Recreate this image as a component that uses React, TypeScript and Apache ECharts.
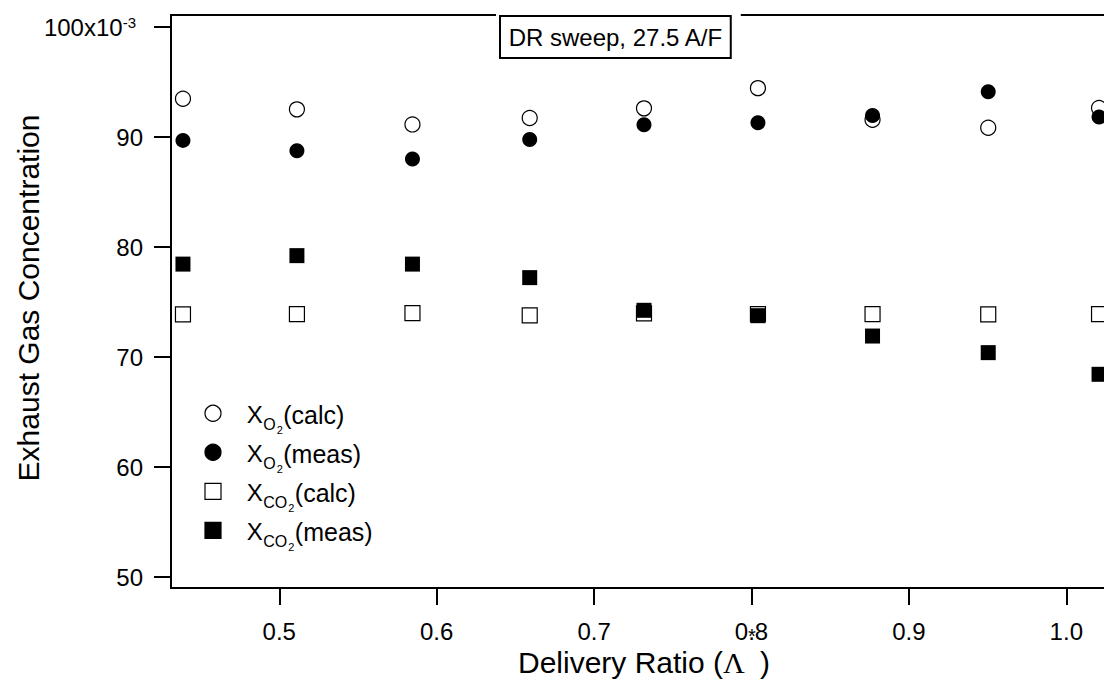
import React, { useEffect, useRef } from "react";
import * as echarts from "echarts";

// ---- data (values in units of 10^-3) ----
const deliveryRatio = [0.4388, 0.5112, 0.5846, 0.6591, 0.7317, 0.8041, 0.8769, 0.9504, 1.0208];
const o2Calc = [93.49, 92.52, 91.15, 91.73, 92.61, 94.45, 91.58, 90.85, 92.64];
const o2Meas = [89.7, 88.76, 88.0, 89.79, 91.13, 91.31, 91.97, 94.13, 91.82];
const co2Calc = [73.88, 73.91, 74.0, 73.79, 73.97, 73.91, 73.91, 73.88, 73.91];
const co2Meas = [78.45, 79.22, 78.45, 77.22, 74.25, 73.76, 71.91, 70.4, 68.43];
const xTicks = [0.5, 0.6, 0.7, 0.8, 0.9, 1.0];
const yTicks = [50, 60, 70, 80, 90, 100];
const legendItems = [
  { symbol: "circle", filled: false, sub: "O", label: "(calc)" },
  { symbol: "circle", filled: true, sub: "O", label: "(meas)" },
  { symbol: "rect", filled: false, sub: "CO", label: "(calc)" },
  { symbol: "rect", filled: true, sub: "CO", label: "(meas)" },
];
const titleText = "DR sweep, 27.5 A/F";
const xTitle = "Delivery Ratio (";
const yTitle = "Exhaust Gas Concentration";

const FONT = '"Liberation Sans", Arial, Helvetica, sans-serif';
const SERIF = '"Liberation Serif", "Times New Roman", serif';

const CHART_W = 1200;

let ctx: CanvasRenderingContext2D | null = null;
function measure(text: string, size: number, family = FONT) {
  if (!ctx) ctx = document.createElement("canvas").getContext("2d");
  if (!ctx) return text.length * size * 0.55;
  ctx.font = `${size}px ${family}`;
  return ctx.measureText(text).width;
}

function txt(x: number, y: number, text: string, size: number, extra: any = {}, family = FONT) {
  return {
    type: "text",
    x,
    y,
    z: 100,
    style: {
      text,
      fontSize: size,
      fontFamily: family,
      fill: "#000",
      align: "left",
      verticalAlign: "middle",
      ...extra,
    },
  };
}

function buildLegend() {
  const els: any[] = [];
  const rows = [413.3, 452.3, 491.3, 530.3];
  const mx = 213;
  legendItems.forEach((it, i) => {
    const cy = rows[i];
    const style = { fill: it.filled ? "#000" : "#fff", stroke: "#000", lineWidth: 1.2 };
    if (it.symbol === "circle") {
      els.push({ type: "circle", z: 100, shape: { cx: mx, cy, r: 8 }, style });
    } else {
      els.push({ type: "rect", z: 100, shape: { x: mx - 8, y: cy - 8, width: 16, height: 16 }, style });
    }
    let x = 246.7;
    els.push(txt(x, cy + 1.4, "X", 24));
    x += measure("X", 24) + 0.5;
    els.push(txt(x, cy + 11.6, it.sub, 16));
    x += measure(it.sub, 16) + 1;
    els.push(txt(x, cy + 16.4, "2", 11));
    x += measure("2", 11) + 0.5;
    els.push(txt(x, cy + 1.4, it.label, 25));
  });
  return els;
}

export default function App() {
  const ref = useRef<HTMLDivElement>(null);
  useEffect(() => {
    if (!ref.current) return;
    const chart = echarts.init(ref.current, undefined, { renderer: "svg" });

    const mk = (ys: number[]) => deliveryRatio.map((x, i) => [x, ys[i]]);
    const open = { color: "#fff", borderColor: "#000", borderWidth: 1.2, opacity: 1 };
    const solid = { color: "#000", borderColor: "#000", borderWidth: 0, opacity: 1 };

    const titleW = measure(titleText, 24) + 16;
    const titleX = 500;

    const xTitleW = measure(xTitle, 30);
    const xTitleLeft = 518;

    const option: any = {
      animation: false,
      backgroundColor: "#fff",
      grid: {
        left: 171,
        right: CHART_W - 1145,
        top: 15,
        bottom: 92,
        show: true,
        borderColor: "#000",
        borderWidth: 2,
        backgroundColor: "transparent",
      },
      xAxis: {
        type: "value",
        min: 0.4312,
        max: 1.05,
        axisLine: { show: true, onZero: false, lineStyle: { color: "#000", width: 2 } },
        axisTick: { show: true, inside: false, length: 17, lineStyle: { color: "#000", width: 2 }, customValues: xTicks },
        axisLabel: {
          customValues: xTicks,
          formatter: (v: number) => v.toFixed(1),
          fontSize: 24,
          fontFamily: FONT,
          color: "#000",
          margin: 31,
        },
        splitLine: { show: false },
      },
      yAxis: {
        type: "value",
        min: 49.0,
        max: 101.1,
        axisLine: { show: true, onZero: false, lineStyle: { color: "#000", width: 2 } },
        axisTick: { show: true, inside: false, length: 17, lineStyle: { color: "#000", width: 2 }, customValues: yTicks },
        axisLabel: {
          customValues: yTicks,
          formatter: (v: number) => (Math.abs(v - 100) < 1e-6 ? "{m|100x10}{s|-3}" : String(Math.round(v))),
          fontSize: 24,
          fontFamily: FONT,
          color: "#000",
          margin: 28,
          rich: {
            m: { fontSize: 24, fontFamily: FONT, color: "#000", lineHeight: 24 },
            s: {
              fontSize: 15,
              fontFamily: FONT,
              color: "#000",
              lineHeight: 15,
              verticalAlign: "top",
              padding: [0, 7, 17, 0],
            },
          },
        },
        splitLine: { show: false },
      },
      series: [
        { type: "scatter", name: "XO2 calc", data: mk(o2Calc), symbol: "circle", symbolSize: 15, itemStyle: open, z: 2 },
        { type: "scatter", name: "XCO2 calc", data: mk(co2Calc), symbol: "rect", symbolSize: 15, itemStyle: open, z: 2 },
        { type: "scatter", name: "XO2 meas", data: mk(o2Meas), symbol: "circle", symbolSize: 15, itemStyle: solid, z: 3 },
        { type: "scatter", name: "XCO2 meas", data: mk(co2Meas), symbol: "rect", symbolSize: 15, itemStyle: solid, z: 3 },
      ],
      graphic: [
        // gap in top frame line around the title box
        { type: "rect", z: 99, shape: { x: titleX - 4, y: 10, width: titleW + 14, height: 8 }, style: { fill: "#fff" } },
        {
          type: "rect",
          z: 100,
          shape: { x: titleX, y: 16, width: titleW, height: 42 },
          style: { fill: "#fff", stroke: "#000", lineWidth: 2 },
        },
        txt(titleX + titleW / 2, 37.5, titleText, 24, { align: "center" }),
        // axis titles
        txt(xTitleLeft, 662.5, xTitle, 30),
        txt(xTitleLeft + xTitleW, 662.5, "Λ", 30, {}, SERIF),
        txt(760, 662.5, ")", 30),
        txt(752, 636, "*", 20, { align: "center" }),
        { ...txt(28, 298, yTitle, 30, { align: "center" }), rotation: Math.PI / 2 },
        ...buildLegend(),
      ],
    };
    chart.setOption(option);
    return () => chart.dispose();
  }, []);

  return (
    <div style={{ position: "absolute", left: 0, top: 0, width: 1104, height: 680, overflow: "hidden", background: "#fff" }}>
      <div ref={ref} style={{ width: CHART_W, height: 680 }} />
    </div>
  );
}
